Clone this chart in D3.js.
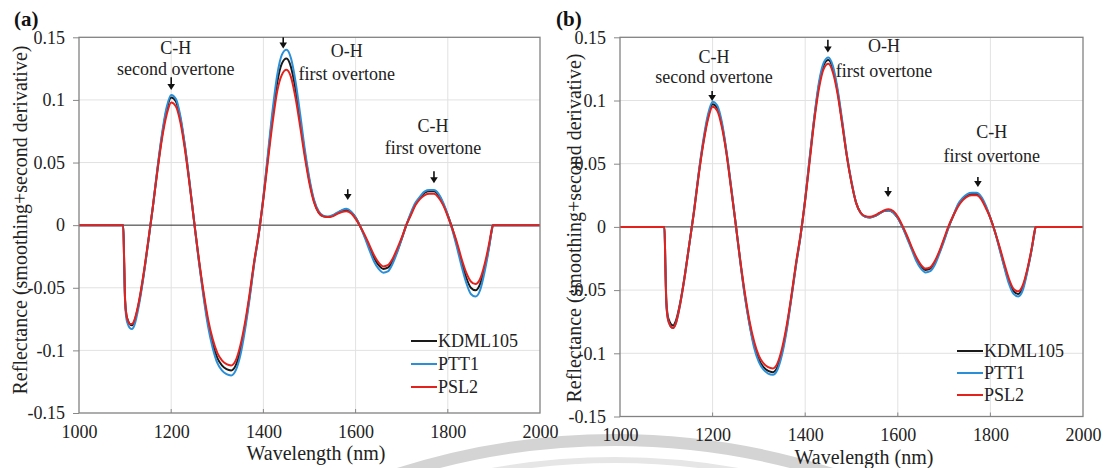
<!DOCTYPE html>
<html><head><meta charset="utf-8">
<script src="https://cdn.jsdelivr.net/npm/d3@7"></script>
<style>
html,body{margin:0;padding:0;background:#fff;}
</style></head>
<body>
<script>
// ---------- DATA ----------
const wavelengths = [1000,1096,1098,1100,1103,1106,1110,1115,1120,
 1130,1140,1150,1160,1170,1180,1190,1200,1210,1220,
 1230,1240,1250,1260,1270,1280,1290,1300,1310,1320,
 1330,1340,1350,1360,1370,1380,1390,1400,1410,1420,
 1430,1440,1450,1460,1470,1480,1490,1500,1510,1520,
 1530,1540,1550,1560,1570,1580,1590,1600,1610,1620,
 1630,1640,1650,1660,1670,1680,1690,1700,1710,1720,
 1730,1740,1750,1760,1770,1780,1790,1800,1810,1820,
 1830,1840,1850,1860,1870,1880,1890,
 1895,1898,2000];

const seriesNames = ['KDML105','PTT1','PSL2'];

// panel (a)
const kdmlA = [0,0,-0.030,-0.060,-0.072,-0.076,-0.079,-0.080,-0.077,
 -0.062,-0.040,-0.014,0.014,0.044,0.071,0.092,0.102,0.099,0.085,
 0.062,0.033,0.002,-0.028,-0.055,-0.078,-0.095,-0.106,-0.112,-0.115,
 -0.116,-0.112,-0.100,-0.081,-0.057,-0.030,-0.007,0.022,0.055,0.088,
 0.114,0.129,0.133,0.126,0.108,0.083,0.057,0.035,0.019,0.010,
 0.007,0.0065,0.0075,0.0095,0.0115,0.012,0.0105,0.006,-0.001,-0.009,
 -0.018,-0.026,-0.032,-0.035,-0.034,-0.029,-0.021,-0.011,0.000,0.009,
 0.017,0.022,0.026,0.027,0.027,0.024,0.017,0.008,-0.003,-0.016,
 -0.030,-0.042,-0.050,-0.052,-0.047,-0.034,-0.016,
 -0.005,0,0];
const pttA = [0,0,-0.031,-0.062,-0.075,-0.079,-0.082,-0.083,-0.080,
 -0.064,-0.041,-0.014,0.014,0.045,0.073,0.094,0.104,0.101,0.087,
 0.063,0.034,0.002,-0.029,-0.057,-0.081,-0.098,-0.110,-0.116,-0.119,
 -0.120,-0.116,-0.104,-0.084,-0.059,-0.031,-0.007,0.023,0.058,0.092,
 0.120,0.136,0.140,0.133,0.114,0.088,0.060,0.037,0.020,0.011,
 0.0075,0.007,0.008,0.010,0.012,0.013,0.011,0.006,-0.001,-0.010,
 -0.020,-0.029,-0.035,-0.038,-0.037,-0.031,-0.022,-0.011,0.000,0.010,
 0.018,0.023,0.027,0.028,0.028,0.025,0.018,0.008,-0.004,-0.018,
 -0.033,-0.046,-0.055,-0.057,-0.052,-0.037,-0.017,
 -0.005,0,0];
const pslA = [0,0,-0.030,-0.060,-0.072,-0.076,-0.079,-0.079,-0.076,
 -0.061,-0.039,-0.013,0.014,0.043,0.069,0.088,0.098,0.095,0.082,
 0.060,0.032,0.002,-0.027,-0.053,-0.075,-0.091,-0.102,-0.108,-0.111,
 -0.112,-0.108,-0.096,-0.078,-0.055,-0.029,-0.006,0.021,0.052,0.082,
 0.107,0.120,0.124,0.118,0.101,0.078,0.054,0.033,0.018,0.010,
 0.007,0.0065,0.007,0.009,0.0105,0.011,0.0095,0.005,-0.001,-0.008,
 -0.016,-0.024,-0.030,-0.033,-0.032,-0.027,-0.019,-0.010,0.000,0.008,
 0.016,0.021,0.024,0.025,0.025,0.022,0.016,0.007,-0.003,-0.014,
 -0.027,-0.038,-0.045,-0.047,-0.043,-0.031,-0.014,
 -0.004,0,0];

// panel (b)
const kdmlB = [0,0,-0.030,-0.058,-0.070,-0.074,-0.077,-0.078,-0.075,
 -0.060,-0.038,-0.013,0.013,0.042,0.067,0.087,0.097,0.094,0.081,
 0.059,0.031,0.002,-0.028,-0.055,-0.077,-0.094,-0.105,-0.111,-0.114,
 -0.115,-0.111,-0.099,-0.080,-0.056,-0.030,-0.007,0.022,0.055,0.087,
 0.113,0.128,0.132,0.125,0.107,0.082,0.056,0.035,0.019,0.011,
 0.008,0.0075,0.0085,0.0105,0.0125,0.013,0.0115,0.007,0.000,-0.008,
 -0.017,-0.025,-0.031,-0.034,-0.033,-0.028,-0.020,-0.010,0.000,0.009,
 0.017,0.022,0.025,0.026,0.026,0.023,0.016,0.007,-0.004,-0.017,
 -0.031,-0.043,-0.051,-0.053,-0.048,-0.034,-0.016,
 -0.005,0,0];
const pttB = [0,0,-0.031,-0.060,-0.072,-0.076,-0.079,-0.080,-0.077,
 -0.061,-0.039,-0.013,0.013,0.043,0.069,0.089,0.099,0.096,0.083,
 0.060,0.032,0.002,-0.028,-0.056,-0.078,-0.096,-0.107,-0.113,-0.116,
 -0.117,-0.113,-0.101,-0.082,-0.057,-0.031,-0.007,0.022,0.056,0.088,
 0.115,0.130,0.134,0.127,0.109,0.084,0.057,0.036,0.019,0.011,
 0.008,0.0075,0.0085,0.0105,0.0125,0.013,0.0115,0.007,0.000,-0.009,
 -0.018,-0.027,-0.033,-0.036,-0.035,-0.030,-0.021,-0.011,0.000,0.009,
 0.018,0.023,0.026,0.027,0.027,0.024,0.017,0.007,-0.004,-0.018,
 -0.032,-0.045,-0.053,-0.055,-0.050,-0.035,-0.016,
 -0.005,0,0];
const pslB = [0,0,-0.031,-0.060,-0.072,-0.076,-0.079,-0.080,-0.077,
 -0.061,-0.039,-0.013,0.012,0.041,0.066,0.085,0.095,0.092,0.079,
 0.058,0.030,0.002,-0.027,-0.053,-0.075,-0.091,-0.102,-0.108,-0.111,
 -0.112,-0.108,-0.096,-0.078,-0.055,-0.029,-0.006,0.021,0.053,0.085,
 0.110,0.125,0.129,0.122,0.105,0.081,0.056,0.035,0.019,0.011,
 0.0085,0.008,0.009,0.011,0.013,0.014,0.0125,0.008,0.001,-0.007,
 -0.016,-0.024,-0.030,-0.033,-0.032,-0.027,-0.019,-0.009,0.001,0.009,
 0.016,0.021,0.024,0.025,0.025,0.022,0.015,0.007,-0.004,-0.016,
 -0.029,-0.041,-0.049,-0.051,-0.046,-0.033,-0.015,
 -0.004,0,0];

const xTickValues = [1000,1200,1400,1600,1800,2000];
const xTickLabels = ['1000','1200','1400','1600','1800','2000'];
const yTickValues = [-0.15,-0.1,-0.05,0,0.05,0.1,0.15];
const yTickLabels = ['-0.15','-0.1','-0.05','0','0.05','0.1','0.15'];
const xTitle = 'Wavelength (nm)';
const yTitle = 'Reflectance (smoothing+second derivative)';

// annotations: [wavelength, value]
const labelsA = [
  {t:'C-H', wl:1210, v:0.1365}, {t:'second overtone', wl:1210, v:0.1196},
  {t:'O-H', wl:1581, v:0.134}, {t:'first overtone', wl:1581, v:0.116},
  {t:'C-H', wl:1768, v:0.074}, {t:'first overtone', wl:1768, v:0.0566}
];
const arrowsA = [
  {wl:1200, top:0.118, tip:0.108}, {wl:1443, top:0.150, tip:0.141},
  {wl:1583, top:0.0287, tip:0.020}, {wl:1770, top:0.043, tip:0.0335}
];
const labelsB = [
  {t:'C-H', wl:1203, v:0.130}, {t:'second overtone', wl:1203, v:0.114},
  {t:'O-H', wl:1570, v:0.1385}, {t:'first overtone', wl:1570, v:0.1186},
  {t:'C-H', wl:1803, v:0.070}, {t:'first overtone', wl:1803, v:0.0513}
];
const arrowsB = [
  {wl:1199, top:0.1075, tip:0.0996}, {wl:1449, top:0.148, tip:0.138},
  {wl:1579, top:0.0316, tip:0.0237}, {wl:1773, top:0.0395, tip:0.0316}
];

// ---------- LAYOUT ----------
const W = 1108, H = 468;
const FONT = '"Liberation Serif", "Times New Roman", Times, "DejaVu Serif", serif';
const colors = ['#1a1a1a','#2b8fd8','#e3211d'];

const svg = d3.select('body').append('svg').attr('width',W).attr('height',H)
  .style('font-family', FONT);

// faint watermark arcs at the bottom
const wm = svg.append('g');
wm.append('circle').attr('cx',615).attr('cy',1150).attr('r',710)
  .attr('fill','none').attr('stroke','#d4d4d4').attr('stroke-width',12);
wm.append('circle').attr('cx',615).attr('cy',1150).attr('r',690)
  .attr('fill','none').attr('stroke','#e6e6e6').attr('stroke-width',6);

const panels = [
  {label:'(a)', lx:14, ly:26, left:79, right:540, top:37.3, bottom:413,
   series:[kdmlA,pttA,pslA], labels:labelsA, arrows:arrowsA,
   ytx:20, yty:220, xtx:316, xty:460, legX:411, legY:[341,364,387]},
  {label:'(b)', lx:556, ly:26, left:620, right:1083, top:37.3, bottom:416.5,
   series:[kdmlB,pttB,pslB], labels:labelsB, arrows:arrowsB,
   ytx:574, yty:228, xtx:864, xty:464, legX:957, legY:[351,373,395]}
];

function txt(sel){ return sel.style('font-family', FONT).attr('fill','#222'); }

panels.forEach(p => {
  const x = d3.scaleLinear().domain([1000,2000]).range([p.left,p.right]);
  const y = d3.scaleLinear().domain([-0.15,0.15]).range([p.bottom,p.top]);
  const g = svg.append('g');

  g.append('rect').attr('x',p.left).attr('y',p.top)
    .attr('width',p.right-p.left).attr('height',p.bottom-p.top).attr('fill','#fff');

  // gridlines
  g.selectAll('.hg').data(yTickValues.filter(d=>d!==0 && Math.abs(d)<0.149)).enter()
    .append('line').attr('x1',p.left).attr('x2',p.right)
    .attr('y1',d=>y(d)).attr('y2',d=>y(d)).attr('stroke','#e2e2e2').attr('stroke-width',1);
  g.selectAll('.vg').data(xTickValues.filter(d=>d>1000 && d<2000)).enter()
    .append('line').attr('y1',p.top).attr('y2',p.bottom)
    .attr('x1',d=>x(d)).attr('x2',d=>x(d)).attr('stroke','#e2e2e2').attr('stroke-width',1);

  // zero line
  g.append('line').attr('x1',p.left).attr('x2',p.right)
    .attr('y1',y(0)).attr('y2',y(0)).attr('stroke','#111').attr('stroke-width',0.9);

  // axes
  const ya = g.append('g').attr('transform',`translate(${p.left},0)`)
    .call(d3.axisLeft(y).tickValues(yTickValues).tickFormat((d,i)=>yTickLabels[i])
      .tickSize(6).tickPadding(8));
  ya.attr('font-family', null);
  ya.select('.domain').remove();
  ya.selectAll('line').attr('stroke','#888');
  txt(ya.selectAll('text')).attr('font-size',18);

  const xa = g.append('g').attr('transform',`translate(0,${p.bottom})`)
    .call(d3.axisBottom(x).tickValues(xTickValues).tickFormat((d,i)=>xTickLabels[i])
      .tickSize(0).tickPadding(12));
  xa.attr('font-family', null);
  xa.select('.domain').remove();
  txt(xa.selectAll('text')).attr('font-size',18);
  g.selectAll('.it').data(xTickValues.filter(d=>d>1000 && d<2000)).enter()
    .append('line').attr('x1',d=>x(d)).attr('x2',d=>x(d))
    .attr('y1',p.bottom).attr('y2',p.bottom-4).attr('stroke','#888');

  // curves
  const line = d3.line().x((d,i)=>x(wavelengths[i])).y(d=>y(d)).curve(d3.curveMonotoneX);
  p.series.forEach((s,k) => {
    g.append('path').datum(s).attr('d',line).attr('fill','none')
      .attr('stroke',colors[k]).attr('stroke-width',2).attr('stroke-linejoin','round');
  });

  // border
  g.append('rect').attr('x',p.left).attr('y',p.top)
    .attr('width',p.right-p.left).attr('height',p.bottom-p.top)
    .attr('fill','none').attr('stroke','#828282').attr('stroke-width',1.3);

  // annotations
  p.labels.forEach(l => {
    txt(g.append('text')).attr('x',x(l.wl)).attr('y',y(l.v)).attr('text-anchor','middle')
      .attr('font-size',18).text(l.t);
  });
  p.arrows.forEach(a => {
    const ax = x(a.wl), yt = y(a.top), yp = y(a.tip);
    g.append('line').attr('x1',ax).attr('x2',ax).attr('y1',yt).attr('y2',yp-4)
      .attr('stroke','#111').attr('stroke-width',1.6);
    g.append('path').attr('d',`M${ax-3.8},${yp-6}L${ax+3.8},${yp-6}L${ax},${yp}Z`).attr('fill','#111');
  });

  // legend
  seriesNames.forEach((n,k) => {
    g.append('line').attr('x1',p.legX).attr('x2',p.legX+26)
      .attr('y1',p.legY[k]).attr('y2',p.legY[k]).attr('stroke',colors[k]).attr('stroke-width',2);
    txt(g.append('text')).attr('x',p.legX+27).attr('y',p.legY[k]).attr('dy','0.35em')
      .attr('font-size',18).text(n);
  });

  // titles
  txt(g.append('text')).attr('x',p.xtx).attr('y',p.xty).attr('text-anchor','middle')
    .attr('font-size',20).text(xTitle);
  txt(g.append('text')).attr('transform',`translate(${p.ytx},${p.yty}) rotate(-90)`)
    .attr('text-anchor','middle').attr('dy','0.35em')
    .attr('font-size',20).text(yTitle);
  txt(svg.append('text')).attr('x',p.lx).attr('y',p.ly).attr('font-size',21)
    .attr('font-weight','bold').attr('fill','#111').text(p.label);
});
</script>
</body></html>
